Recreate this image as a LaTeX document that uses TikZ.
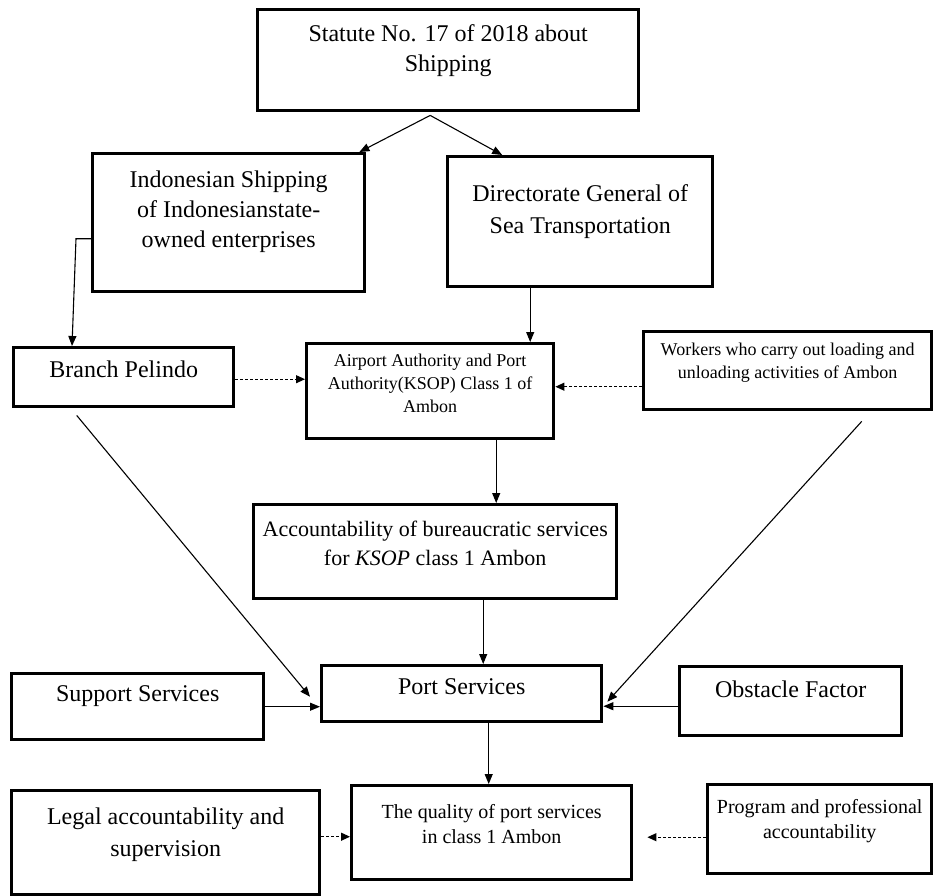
\documentclass[tikz,border=0pt]{standalone}
\usepackage{fontspec}
\setmainfont{Liberation Serif}
\usetikzlibrary{arrows.meta,positioning}

\newcommand{\bigfont}{\fontsize{24}{30}\selectfont}
\newcommand{\widefont}{\fontsize{24}{32}\selectfont}
\newcommand{\midfont}{\fontsize{22}{29}\selectfont}
\newcommand{\notefont}{\fontsize{20}{25}\selectfont}
\newcommand{\smallfont}{\fontsize{18}{23}\selectfont}
% box body: width, height, top pad, text
\newcommand{\toptext}[4]{\parbox[c][#2][t]{#1}{\centering\vspace*{#3}\strut#4}}

\tikzset{
  flowbox/.style={draw, line width=3.4pt, inner sep=0pt, anchor=north west},
  solidarrow/.style={-{Triangle[length=10pt,width=8pt]}, line width=1.1pt},
  dasharrow/.style={-{Triangle[length=9pt,width=8pt]}, line width=1.1pt, dash pattern=on 3pt off 2pt},
}

\begin{document}
\begin{tikzpicture}[x=1pt,y=-1pt]
        \useasboundingbox (0,0) rectangle (933,895);
        % boxes
        \node[flowbox, font=\bigfont] (statute) at (256,8) {\toptext{381pt}{101pt}{11pt}{Statute No. 17 of 2018 about\\Shipping}};
        \node[flowbox, font=\bigfont] (ship) at (91,152) {\toptext{272pt}{138pt}{13pt}{Indonesian Shipping\\of Indonesianstate-\\owned enterprises}};
        \node[flowbox, font=\widefont] (dirgen) at (446,155) {\toptext{265pt}{130pt}{22pt}{Directorate General of\\Sea Transportation}};
        \node[flowbox, font=\bigfont] (pelindo) at (12,346) {\toptext{220pt}{59pt}{9pt}{Branch Pelindo}};
        \node[flowbox, font=\smallfont] (ksop) at (305,342) {\toptext{247pt}{95pt}{7pt}{Airport Authority and Port\\Authority(KSOP) Class 1 of\\Ambon}};
        \node[flowbox, font=\smallfont] (workers) at (642,330) {\toptext{288pt}{78pt}{8pt}{Workers who carry out loading and\\unloading activities of Ambon}};
        \node[flowbox, font=\midfont] (account) at (252,503) {\toptext{363pt}{94pt}{11pt}{Accountability of bureaucratic services\\for \textit{KSOP} class 1 Ambon}};
        \node[flowbox, font=\bigfont] (support) at (10,672) {\toptext{252pt}{66pt}{7pt}{Support Services}};
        \node[flowbox, font=\bigfont] (port) at (320,664) {\toptext{280pt}{56pt}{8pt}{Port Services}};
        \node[flowbox, font=\bigfont] (obstacle) at (678,665) {\toptext{222pt}{69pt}{10pt}{Obstacle Factor}};
        \node[flowbox, font=\widefont] (legal) at (10,789) {\toptext{308pt}{104pt}{11pt}{Legal accountability and\\supervision}};
        \node[flowbox, font=\notefont] (quality) at (350,784) {\toptext{280pt}{94pt}{15pt}{The quality of port services\\in class 1 Ambon}};
        \node[flowbox, font=\notefont] (program) at (706,783) {\toptext{224pt}{89pt}{11pt}{Program and professional\\accountability}};
        % connectors
        \coordinate (split) at ([xshift=-18pt,yshift=-3pt]statute.south);
        \draw[solidarrow] (split) -- ([xshift=-7pt]ship.north east);
        \draw[solidarrow] (split) -- ([xshift=-78pt]dirgen.north);
        \coordinate (bend) at ([xshift=-15pt,yshift=-16pt]ship.west);
        \draw[solidarrow] ([yshift=-16pt]ship.west) -- (bend) -- ([xshift=60pt]pelindo.north west);
        \coordinate (d1) at ([xshift=-50pt]dirgen.south);
        \draw[solidarrow] (d1) -- (d1 |- ksop.north);
        \coordinate (p1) at ([yshift=-2pt]pelindo.east);
        \draw[dasharrow] (p1) -- (p1 -| ksop.west);
        \coordinate (w1) at ([yshift=-16pt]workers.west);
        \draw[dasharrow] (w1) -- (w1 -| ksop.east);
        \coordinate (k1) at ([xshift=66pt]ksop.south);
        \draw[solidarrow] (k1) -- (k1 |- account.north);
        \coordinate (p2) at ([xshift=-47pt,yshift=-7pt]pelindo.south);
        \draw[solidarrow] (p2) -- ([xshift=-10pt,yshift=-3pt]port.west);
        \coordinate (w2) at ([xshift=74pt,yshift=-10pt]workers.south);
        \draw[solidarrow] (w2) -- ([xshift=4pt,yshift=-8pt]port.east);
        \coordinate (a1) at ([xshift=48pt]account.south);
        \draw[solidarrow] (a1) -- (a1 |- port.north);
        \draw[solidarrow] (support.east) -- (support.east -| port.west);
        \coordinate (o1) at ([yshift=-5pt]obstacle.west);
        \draw[solidarrow] (o1) -- (o1 -| port.east);
        \coordinate (s1) at ([xshift=27pt]port.south);
        \draw[solidarrow] (s1) -- (s1 |- quality.north);
        \coordinate (l1) at ([yshift=6pt]legal.east);
        \draw[dasharrow] (l1) -- (l1 -| quality.west);
        \coordinate (r1) at ([yshift=-8pt]program.west);
        \coordinate (qgap) at ([xshift=14pt]quality.east);
        \draw[dasharrow] (r1) -- (r1 -| qgap);
      \end{tikzpicture}
\end{document}
